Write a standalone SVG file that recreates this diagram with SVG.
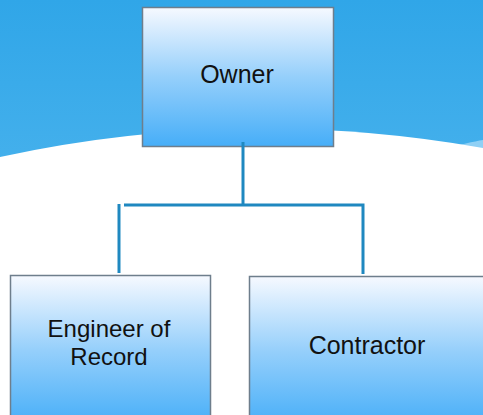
<svg xmlns="http://www.w3.org/2000/svg" width="483" height="415" viewBox="0 0 483 415">
<defs>
<linearGradient id="sky" x1="0" y1="0" x2="0" y2="1">
<stop offset="0" stop-color="#30a6e8"/>
<stop offset="1" stop-color="#62bff2"/>
</linearGradient>
<linearGradient id="box" x1="0" y1="0" x2="0" y2="1">
<stop offset="0" stop-color="#f6f9ff"/>
<stop offset="0.5" stop-color="#95cffb"/>
<stop offset="1" stop-color="#46aef8"/>
</linearGradient>
<style>
.node rect{fill:url(#box);stroke:#6e7e8c;stroke-width:1.5}
.node text{font-family:"Liberation Sans",Arial,sans-serif;font-size:25px;fill:#111;text-anchor:middle}
.node text.sm{font-size:24px}
.conn{stroke:#1f88c0;stroke-width:3;fill:none}
</style>
</defs>
<rect width="483" height="415" fill="url(#sky)"/>
<path d="M440,150 Q470,142 483,140 L483,148 Z" fill="#8fd0f5"/>
<path d="M0,157 Q240,105 483,148 L483,415 L0,415 Z" fill="#ffffff"/>
<g id="owner" class="node">
<rect x="142.5" y="7.5" width="191" height="139"/>
<text x="237" y="83">Owner</text>
</g>
<g id="connectors">
<path class="conn" d="M243,142 V205"/>
<path class="conn" d="M124,205 H363 V274"/>
<path class="conn" d="M119,204 V273"/>
</g>
<g id="engineer" class="node">
<rect x="10.5" y="275.5" width="200" height="150"/>
<text class="sm" x="109" y="337">Engineer of</text>
<text class="sm" x="109" y="365">Record</text>
</g>
<g id="contractor" class="node">
<rect x="249.5" y="276.5" width="250" height="150"/>
<text x="367" y="354">Contractor</text>
</g>
</svg>
